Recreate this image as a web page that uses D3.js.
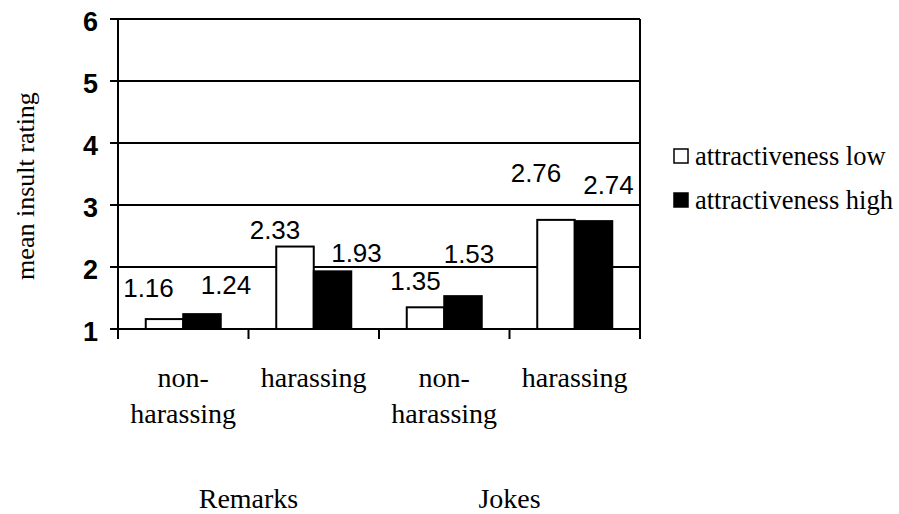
<!DOCTYPE html>
<html>
<head>
<meta charset="utf-8">
<script src="https://cdn.jsdelivr.net/npm/d3@7"></script>
<style>
  body { margin: 0; background: #fff; }
  svg { display: block; }
</style>
</head>
<body>
<div id="chart"></div>
<script>
// categories (two lines each) and the group they belong to
var categories = ["Remarks non-harassing", "Remarks harassing", "Jokes non-harassing", "Jokes harassing"];
var categoryLines = [["non-", "harassing"], ["harassing"], ["non-", "harassing"], ["harassing"]];
var groups = ["Remarks", "Jokes"];
var seriesNames = ["attractiveness low", "attractiveness high"];
var lowValues = [1.16, 2.33, 1.35, 2.76];
var highValues = [1.24, 1.93, 1.53, 2.74];
var yTicks = [1, 2, 3, 4, 5, 6];

// label placement offsets (layout only), [dx, dy] from bar centre / top
var lowLabelOffset = [[-16, -22], [-20, -8], [-10, -17], [-20, -38]];
var highLabelOffset = [[24, -20], [24, -9], [6, -33], [15, -27]];

var width = 899, height = 514;
var plot = {left: 118, right: 640, top: 19, bottom: 329};

var svg = d3.select("#chart").append("svg")
    .attr("width", width)
    .attr("height", height);

var x = d3.scaleBand().domain(categories).range([plot.left, plot.right]).padding(0);
var xSub = d3.scaleBand().domain(seriesNames).range([0, x.bandwidth()]).paddingInner(0).paddingOuter(0.74);
var y = d3.scaleLinear().domain([1, 6]).range([plot.bottom, plot.top]);

//Gridlines with little ticks on the left
svg.append("g")
    .selectAll("line")
    .data(yTicks)
    .enter().append("line")
    .attr("x1", plot.left - 8)
    .attr("x2", plot.right)
    .attr("y1", function(d) { return y(d); })
    .attr("y2", function(d) { return y(d); })
    .attr("stroke", "#000")
    .attr("stroke-width", 2);

//Y tick labels
svg.append("g")
    .selectAll("text")
    .data(yTicks)
    .enter().append("text")
    .attr("x", plot.left - 20)
    .attr("y", function(d) { return y(d); })
    .attr("dy", "0.44em")
    .attr("text-anchor", "end")
    .attr("font-family", "Liberation Sans, Arial, sans-serif")
    .attr("font-weight", "bold")
    .attr("font-size", 27)
    .text(function(d) { return d; });

//Bars
var rows = categories.map(function(c, i) {
    return {cat: c, i: i, vals: [lowValues[i], highValues[i]]};
});

var barG = svg.append("g");
rows.forEach(function(r) {
    r.vals.forEach(function(v, s) {
        var bx = x(r.cat) + xSub(seriesNames[s]);
        barG.append("rect")
            .attr("x", bx)
            .attr("y", y(v))
            .attr("width", xSub.bandwidth())
            .attr("height", y(1) - y(v))
            .attr("fill", s === 0 ? "#fff" : "#000")
            .attr("stroke", "#000")
            .attr("stroke-width", 2);
        var off = s === 0 ? lowLabelOffset[r.i] : highLabelOffset[r.i];
        barG.append("text")
            .attr("x", bx + xSub.bandwidth() / 2 + off[0])
            .attr("y", y(v) + off[1])
            .attr("text-anchor", "middle")
            .attr("font-family", "Liberation Sans, Arial, sans-serif")
            .attr("font-size", 26)
            .text(v.toFixed(2));
    });
});

//Axes lines: left axis, right border, x ticks
svg.append("line")
    .attr("x1", plot.left).attr("x2", plot.left)
    .attr("y1", plot.top).attr("y2", plot.bottom + 10)
    .attr("stroke", "#000").attr("stroke-width", 2);
svg.append("line")
    .attr("x1", plot.right).attr("x2", plot.right)
    .attr("y1", plot.top).attr("y2", plot.bottom + 10)
    .attr("stroke", "#000").attr("stroke-width", 2);
svg.append("g")
    .selectAll("line")
    .data(categories.slice(1))
    .enter().append("line")
    .attr("x1", function(d) { return x(d); })
    .attr("x2", function(d) { return x(d); })
    .attr("y1", plot.bottom)
    .attr("y2", plot.bottom + 10)
    .attr("stroke", "#000").attr("stroke-width", 2);

//Category labels
var catText = svg.append("g")
    .selectAll("text")
    .data(rows)
    .enter().append("text")
    .attr("text-anchor", "middle")
    .attr("font-family", "Liberation Serif, Times New Roman, serif")
    .attr("font-size", 28);
catText.selectAll("tspan")
    .data(function(d) {
        return categoryLines[d.i].map(function(t) { return {t: t, cx: x(d.cat) + x.bandwidth() / 2}; });
    })
    .enter().append("tspan")
    .attr("x", function(d) { return d.cx; })
    .attr("y", function(d, j) { return 387 + j * 36; })
    .text(function(d) { return d.t; });

//Group labels centred on the boundary of their two categories
svg.append("g")
    .selectAll("text")
    .data(groups)
    .enter().append("text")
    .attr("x", function(d, i) { return x(categories[i * 2 + 1]); })
    .attr("y", 508)
    .attr("text-anchor", "middle")
    .attr("font-family", "Liberation Serif, Times New Roman, serif")
    .attr("font-size", 28)
    .text(function(d) { return d; });

//Y axis title
svg.append("text")
    .attr("transform", "translate(34," + ((plot.top + plot.bottom) / 2 + 12) + ") rotate(-90)")
    .attr("text-anchor", "middle")
    .attr("font-family", "Liberation Serif, Times New Roman, serif")
    .attr("font-size", 26)
    .text("mean insult rating");

//Legend
var legend = svg.append("g")
    .selectAll("g")
    .data(seriesNames)
    .enter().append("g")
    .attr("transform", function(d, i) { return "translate(674," + (149 + i * 44) + ")"; });
legend.append("rect")
    .attr("width", 14)
    .attr("height", 14)
    .attr("fill", function(d, i) { return i === 0 ? "#fff" : "#000"; })
    .attr("stroke", "#000")
    .attr("stroke-width", 1.5);
legend.append("text")
    .attr("x", 21)
    .attr("y", 16)
    .attr("font-family", "Liberation Serif, Times New Roman, serif")
    .attr("font-size", 26.5)
    .text(function(d) { return d; });
</script>
</body>
</html>
